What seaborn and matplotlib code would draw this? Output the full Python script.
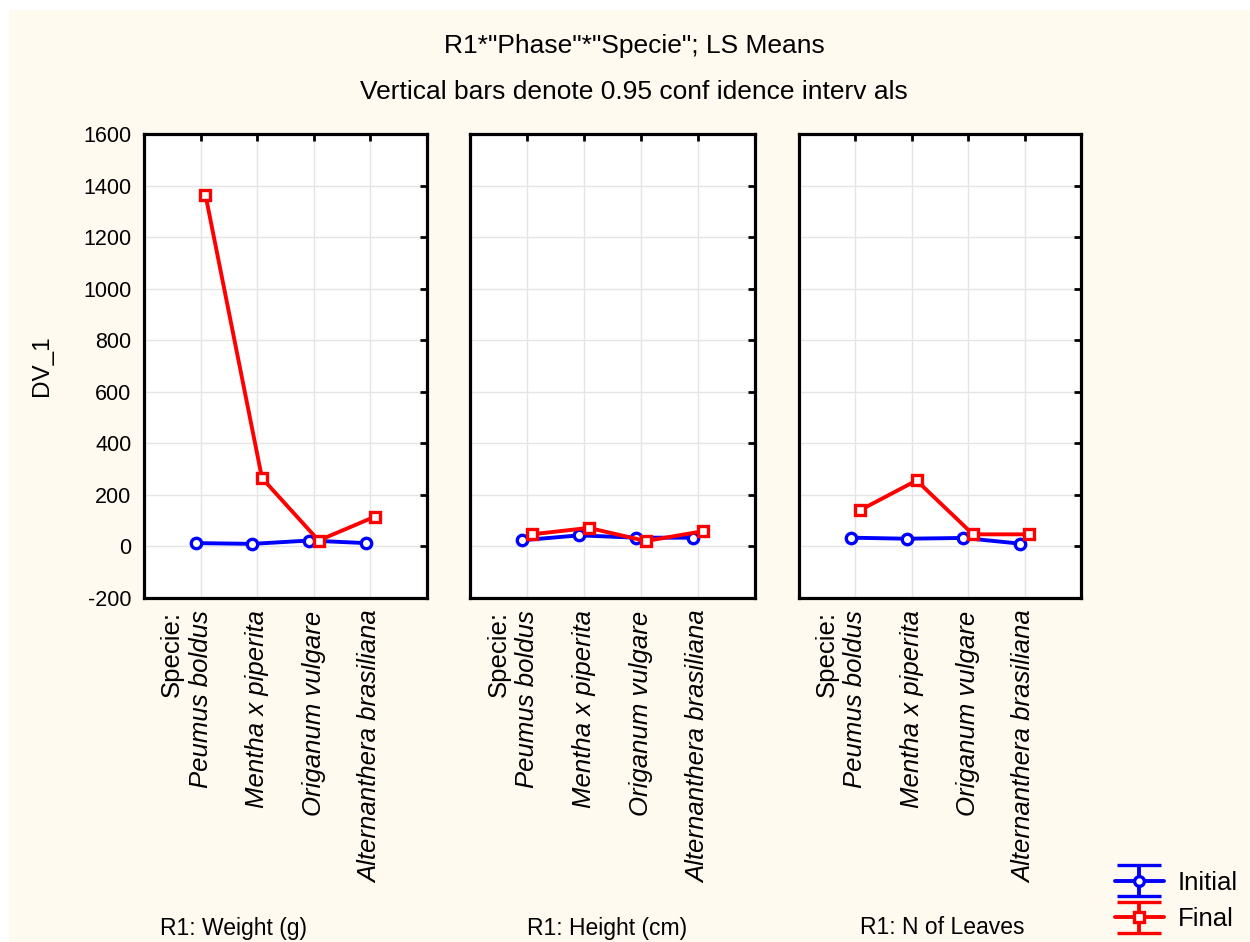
import numpy as np
import pandas as pd
import matplotlib
matplotlib.use("Agg")
import matplotlib.pyplot as plt
from matplotlib.patches import Rectangle
from matplotlib.legend_handler import HandlerErrorbar
import seaborn as sns

# Data
species = ["Peumus boldus", "Mentha x piperita", "Origanum vulgare", "Alternanthera brasiliana"]
phases = ["Initial", "Final"]
panels = ["R1: Weight (g)", "R1: Height (cm)", "R1: N of Leaves"]

weight_initial = [13, 10, 23, 13]
weight_final = [1365, 265, 23, 116]
height_initial = [24, 43, 34, 34]
height_final = [47, 72, 21, 59]
leaves_initial = [34, 30, 33, 11]
leaves_final = [141, 256, 47, 47]

y_ticks = [-200, 0, 200, 400, 600, 800, 1000, 1200, 1400, 1600]

values = {
    panels[0]: (weight_initial, weight_final),
    panels[1]: (height_initial, height_final),
    panels[2]: (leaves_initial, leaves_final),
}

rows = []
for panel, (ini, fin) in values.items():
    for sp, a, b in zip(species, ini, fin):
        rows.append({"panel": panel, "Specie": sp, "Phase": "Initial", "DV_1": a})
        rows.append({"panel": panel, "Specie": sp, "Phase": "Final", "DV_1": b})
df = pd.DataFrame(rows)

sns.set_style("white")
plt.rcParams["font.family"] = ["Liberation Sans", "DejaVu Sans"]
plt.rcParams["axes.unicode_minus"] = False
plt.rcParams["text.color"] = "black"
plt.rcParams["axes.labelcolor"] = "black"
plt.rcParams["xtick.color"] = "black"
plt.rcParams["ytick.color"] = "black"

cream = "#FFFAEF"
colors = {"Initial": "#0000FF", "Final": "#FF0000"}

W, H = 1250, 942
fig = plt.figure(figsize=(12.5, 9.42), dpi=100, facecolor="white")
fig.patches.append(Rectangle((9 / W, 0), 1, 1 - 10 / H, transform=fig.transFigure,
                             facecolor=cream, edgecolor="none", zorder=-10))

boxes = [(144, 283), (470, 285), (799, 282)]
label_x = [233, 607, 942]
axes = []
for i, (panel, (left, width)) in enumerate(zip(panels, boxes)):
    ax = fig.add_axes([left / W, 344 / H, width / W, 464 / H])
    sub = df[df["panel"] == panel]
    sns.pointplot(data=sub, x="Specie", y="DV_1", hue="Phase", order=species,
                  hue_order=phases, palette=colors, markers=["o", "s"],
                  linestyles=["-", "-"], dodge=0.17, errorbar=None, ax=ax,
                  markersize=7.5, linewidth=2.8, markerfacecolor="white",
                  markeredgewidth=2.4, legend=False)
    ax.set_facecolor("white")
    ax.set_xlim(-1, 4)
    ax.set_ylim(-200, 1600)
    ax.set_yticks(y_ticks)
    ax.set_xticks(range(len(species)))
    ax.set_xticklabels(species, rotation=90, fontstyle="italic", fontsize=18.5)
    ax.grid(True, color="#E5E5E5", linewidth=1.0)
    ax.set_axisbelow(True)
    for s in ax.spines.values():
        s.set_color("black")
        s.set_linewidth(2.3)
    ax.tick_params(direction="in", length=5, width=2, top=True, right=True,
                   pad=9, color="black", labelcolor="black")
    ax.tick_params(axis="y", labelsize=15.5)
    ax.set_xlabel("")
    if i == 0:
        ax.set_ylabel("DV_1", fontsize=17.5, labelpad=22)
    else:
        ax.set_ylabel("")
        ax.tick_params(labelleft=False)
    ax.text(-0.5, -0.027, "Specie:", transform=ax.get_xaxis_transform(),
            rotation=90, ha="center", va="top", fontsize=18.5)
    fig.text(label_x[i] / W, 1 - 928 / H, panel, ha="center", va="center", fontsize=16.5)
    axes.append(ax)

fig.text(634 / W, 1 - 46 / H, 'R1*"Phase"*"Specie"; LS Means', ha="center",
         va="center", fontsize=19)
fig.text(634 / W, 1 - 92 / H, "Vertical bars denote 0.95 conf idence interv als",
         ha="center", va="center", fontsize=19)

# legend handles drawn as error-bar symbols
hax = fig.add_axes([0, 0, 0.01, 0.01])
hax.set_axis_off()
handles = []
for ph, mk in zip(phases, ["o", "s"]):
    h = hax.errorbar([np.nan], [np.nan], yerr=[1], color=colors[ph], marker=mk,
                     markersize=7, markerfacecolor="white", markeredgewidth=2.4,
                     linewidth=2.8, elinewidth=2.8, capsize=16, capthick=2.8)
    handles.append(h)
fig.legend(handles, phases, loc="center left", bbox_to_anchor=(1102 / W, 1 - 901 / H),
           frameon=False, fontsize=18.5, handlelength=1.9, handletextpad=0.55,
           labelspacing=0.5, borderpad=0.0,
           handler_map={type(handles[0]): HandlerErrorbar(xerr_size=0.5, yerr_size=0.6)})

fig.savefig("out.png", dpi=100, facecolor="white")
